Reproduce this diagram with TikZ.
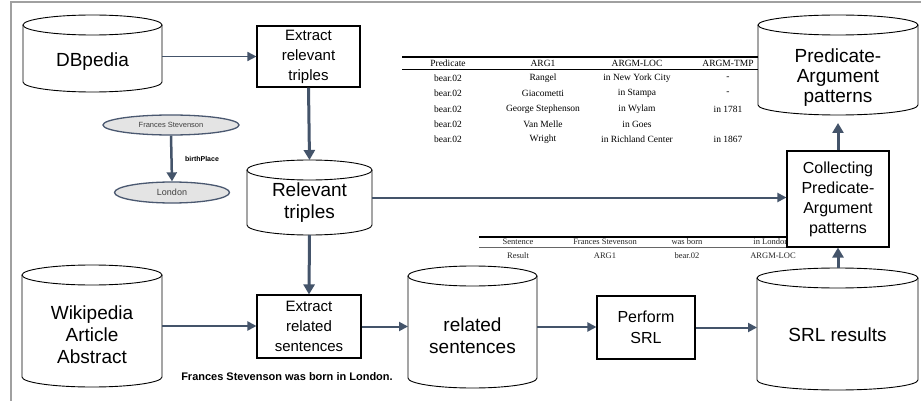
\documentclass[tikz,border=0pt]{standalone}
\usepackage{fontspec}
\setmainfont{Liberation Sans}
\newfontfamily\tms{Liberation Serif}
\usetikzlibrary{shapes.geometric,arrows.meta}
\definecolor{arrc}{HTML}{44546A}
\definecolor{framec}{HTML}{A0A0A0}
\definecolor{ellfill}{HTML}{E4E4E4}
\definecolor{elldraw}{HTML}{4A5870}
\tikzset{
  boxnode/.style={draw=black, line width=1.1pt, fill=white, align=center, inner sep=0pt, font=\fontsize{15}{20}\selectfont},
  cylshape/.style={inner sep=0pt, outer sep=0pt},
  cyltext/.style={align=center, inner sep=0pt, font=\fontsize{19}{22}\selectfont},
  cylline/.style={draw=black, line width=0.9pt},
  arr/.style={draw=arrc, line width=2pt, -{Triangle[length=9pt,width=9pt]}},
  varr/.style={draw=arrc, line width=3pt, -{Triangle[length=10pt,width=11pt]}},
  entity/.style={ellipse, draw=elldraw, line width=1.3pt, fill=ellfill, inner sep=0pt, text=black!75},
  tabone/.style={inner sep=0pt, font=\tms\fontsize{9.5}{11}\selectfont},
  tabtwo/.style={inner sep=0pt, font=\tms\fontsize{8.5}{10}\selectfont, text=black!85},
}
\newcommand\mycyl[5]{%
  \pgfmathsetmacro\cylcx{(#2+#3)/2}%
  \pgfmathsetmacro\cylrx{(#3-#2)/2}%
  \pgfmathsetmacro\cylcy{(#4+#5)/2}%
  \node[cylshape, minimum width=(#3-#2)*1pt, minimum height=(#5-#4)*1pt] (#1) at (\cylcx,\cylcy) {};
  \draw[cylline] (#2,#4+10) -- (#2,#5-10) arc[start angle=180, end angle=360, x radius=\cylrx pt, y radius=10pt] -- (#3,#4+10);
  \draw[cylline] (\cylcx,#4+10) ellipse[x radius=\cylrx pt, y radius=10pt];
}
\begin{document}
\begin{tikzpicture}[x=1pt,y=-1pt]
\useasboundingbox (0,0) rectangle (921,401);
\fill[white] (0,0) rectangle (921,401);
\draw[framec, line width=1.5pt] (11,401) -- (11,2) -- (921,2);

% cylinders
\mycyl{dbp}{23}{162}{15}{92}
\node[cyltext] (dbpt) at (92.5,62) {DBpedia};
\mycyl{rel}{247}{372}{160}{235}
\node[cyltext] (relt) at (309.5,203) {Relevant\\triples};
\mycyl{wiki}{22}{162}{265}{387}
\node[cyltext] (wikit) at (92,335) {Wikipedia\\Article\\Abstract};
\mycyl{rsen}{408}{537}{266}{388}
\node[cyltext] (rsent) at (472.5,336) {related\\sentences};
\mycyl{srl}{757}{918}{268}{390}
\node[cyltext] (srlt) at (837.5,335) {SRL results};
\mycyl{pap}{758}{918}{15}{115}
\node[cyltext, font=\fontsize{19}{20}\selectfont] (papt) at (838,78) {Predicate-\\Argument\\patterns};

% table 1
\draw[line width=1.2pt] (402,57) -- (758,57);
\draw[line width=0.6pt] (402,69) -- (758,69);
\node[tabone] (h1) at (448,63.5) {Predicate};
\node[tabone] (h2) at (543,63.5) {ARG1};
\node[tabone] (h3) at (637,63.5) {ARGM-LOC};
\node[tabone] (h4) at (728,63.5) {ARGM-TMP};
\node[tabone] (a1) at (448,78.5) {bear.02};
\node[tabone] (a2) at (543,78.5) {Rangel};
\node[tabone] (a3) at (637,78.5) {in New York City};
\node[tabone] (a4) at (728,78.5) {-};
\node[tabone] (b1) at (448,93.5) {bear.02};
\node[tabone] (b2) at (543,93.5) {Giacometti};
\node[tabone] (b3) at (637,93.5) {in Stampa};
\node[tabone] (b4) at (728,93.5) {-};
\node[tabone] (c1) at (448,109) {bear.02};
\node[tabone] (c2) at (543,109) {George Stephenson};
\node[tabone] (c3) at (637,109) {in Wylam};
\node[tabone] (c4) at (728,109) {in 1781};
\node[tabone] (d1) at (448,124) {bear.02};
\node[tabone] (d2) at (543,124) {Van Melle};
\node[tabone] (d3) at (637,124) {in Goes};
\node[tabone] (e1) at (448,139) {bear.02};
\node[tabone] (e2) at (543,139) {Wright};
\node[tabone] (e3) at (637,139) {in Richland Center};
\node[tabone] (e4) at (728,139) {in 1867};

% table 2
\draw[line width=1.2pt] (479,237) -- (787,237);
\draw[line width=0.5pt, black!60] (479,247) -- (787,247);
\node[tabtwo] (s1) at (518,242) {Sentence};
\node[tabtwo] (s2) at (605,242) {Frances Stevenson};
\node[tabtwo] (s3) at (687,242) {was born};
\node[tabtwo] (s4) at (771,242) {in London};
\node[tabtwo] (r1) at (518,256) {Result};
\node[tabtwo] (r2) at (605,256) {ARG1};
\node[tabtwo] (r3) at (687,256) {bear.02};
\node[tabtwo] (r4) at (773,256) {ARGM-LOC};

% boxes
\node[boxnode, minimum width=103, minimum height=61] (ext1) at (308.5,56.5) {Extract\\relevant\\triples};
\node[boxnode, minimum width=104, minimum height=63] (ext2) at (309,326.5) {Extract\\related\\sentences};
\node[boxnode, minimum width=98, minimum height=63, font=\fontsize{16}{21}\selectfont] (perf) at (646,327.5) {Perform\\SRL};
\node[boxnode, minimum width=102, minimum height=96, font=\fontsize{16}{20}\selectfont] (coll) at (838,199) {Collecting\\Predicate-\\Argument\\patterns};

% entity example
\node[entity, minimum width=136, minimum height=20, font=\fontsize{7.5}{9}\selectfont] (fs) at (171,125) {Frances Stevenson};
\node[entity, minimum width=115, minimum height=21, font=\fontsize{9}{10}\selectfont] (lon) at (172,192.5) {London};
\draw[draw=arrc, line width=2.5pt, -{Triangle[length=9pt,width=10pt]}] (fs.south) -- (lon.north);
\node[inner sep=0pt, font=\bfseries\fontsize{7}{8}\selectfont] (bp) at (202,159) {birthPlace};

\node[inner sep=0pt, font=\bfseries\fontsize{11}{13}\selectfont] (sent) at (287,377) {Frances Stevenson was born in London.};

% connectors
\draw[arr, line width=1.5pt] (ext1.west -| dbp.east) -- (ext1.west);
\draw[varr] (ext1.south) -- (rel.north);
\draw[varr] (rel.south) -- (ext2.north);
\draw[arr] (rel.east) -- (rel.east -| coll.west);
\draw[arr] (wiki.east) -- (wiki.east -| ext2.west);
\draw[arr] (ext2.east) -- (ext2.east -| rsen.west);
\draw[arr] (rsen.east) -- (rsen.east -| perf.west);
\draw[arr] (perf.east) -- (perf.east -| srl.west);
\draw[varr] (srl.north -| coll.south) -- (coll.south);
\draw[varr, shorten >=8pt] (coll.north) -- (coll.north |- pap.south);
\end{tikzpicture}
\end{document}
